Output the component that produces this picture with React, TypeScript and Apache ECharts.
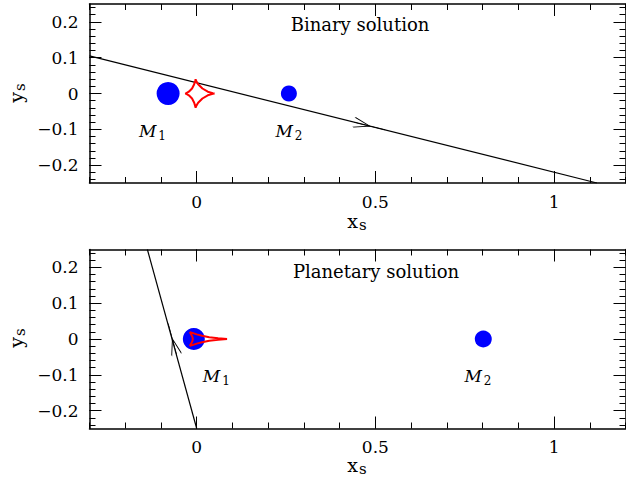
import React, { useEffect, useRef } from 'react';
import * as echarts from 'echarts';

const X_MIN = -0.3;
const X_MAX = 1.2;
const Y_MIN = -0.25;
const Y_MAX = 0.25;
const xLabelTicks = [0, 0.5, 1];
const xMinorTicks = [-0.3, -0.2, -0.1, 0, 0.1, 0.2, 0.3, 0.4, 0.5, 0.6, 0.7, 0.8, 0.9, 1, 1.1, 1.2];
const yLabelTicks = [-0.2, -0.1, 0, 0.1, 0.2];
const yMinorTicks = [-0.24, -0.22, -0.2, -0.18, -0.16, -0.14, -0.12, -0.1, -0.08, -0.06, -0.04, -0.02, 0,
  0.02, 0.04, 0.06, 0.08, 0.1, 0.12, 0.14, 0.16, 0.18, 0.2, 0.22, 0.24];

// Binary solution
const binaryM1 = [-0.08, 0];
const binaryM2 = [0.258, 0];
const binaryCaustic = [
  [0.05, 0], [0.045, 0.001], [0.031, 0.005], [0.016, 0.014], [0.004, 0.026], [-0.002, 0.036], [-0.003, 0.04],
  [-0.004, 0.036], [-0.007, 0.026], [-0.013, 0.014], [-0.022, 0.005], [-0.029, 0.001], [-0.032, 0],
  [-0.029, -0.001], [-0.022, -0.005], [-0.013, -0.014], [-0.007, -0.026], [-0.004, -0.036], [-0.003, -0.04],
  [-0.002, -0.036], [0.004, -0.026], [0.016, -0.014], [0.031, -0.005], [0.045, -0.001], [0.05, 0],
];
const binaryTrajectory = [[-0.3, 0.105], [1.12, -0.25]];
const binaryArrow = [0.484, -0.091];
const binaryLabelM1 = [-0.124, -0.105];
const binaryLabelM2 = [0.258, -0.105];

// Planetary solution
const planetM1 = [-0.008, 0];
const planetM2 = [0.802, 0];
const planetCaustic = [
  [0.085, 0], [0.06, 0.002], [0.035, 0.005], [0.015, 0.009], [0.0, 0.013], [-0.012, 0.017], [-0.019, 0.019],
  [-0.015, 0.012], [-0.012, 0.006], [-0.011, 0],
  [-0.012, -0.006], [-0.015, -0.012], [-0.019, -0.019], [-0.012, -0.017], [0.0, -0.013], [0.015, -0.009],
  [0.035, -0.005], [0.06, -0.002], [0.085, 0],
];
const planetTrajectory = [[-0.138, 0.25], [0.0, -0.25]];
const planetArrow = [-0.068, 0.0];
const planetLabelM1 = [0.055, -0.104];
const planetLabelM2 = [0.787, -0.104];

const FONT = 'DejaVu Serif';
const fmt = (v: number) => String(v).replace('-', '\u2212');

function makeAxes(gridIndex: number) {
  const base = {
    type: 'value' as const,
    gridIndex,
    splitLine: { show: false },
  };
  const xs: any[] = [];
  const ys: any[] = [];
  (['bottom', 'top'] as const).forEach((pos) => {
    xs.push({
      ...base, position: pos, min: X_MIN, max: X_MAX,
      axisLine: { show: true, onZero: false, lineStyle: { color: '#000', width: 1.5 } },
      axisTick: { show: true, inside: true, length: 6, customValues: xMinorTicks, lineStyle: { color: '#000', width: 1 } },
      axisLabel: pos === 'bottom'
        ? { show: true, customValues: xLabelTicks, formatter: fmt, margin: 10, color: '#000', fontFamily: FONT, fontSize: 17 }
        : { show: false },
    });
    xs.push({
      ...base, position: pos, min: X_MIN, max: X_MAX,
      axisLine: { show: false, onZero: false },
      axisTick: { show: true, inside: true, length: 12, customValues: xLabelTicks, lineStyle: { color: '#000', width: 1 } },
      axisLabel: { show: false },
    });
  });
  (['left', 'right'] as const).forEach((pos) => {
    ys.push({
      ...base, position: pos, min: Y_MIN, max: Y_MAX,
      axisLine: { show: true, onZero: false, lineStyle: { color: '#000', width: 1.5 } },
      axisTick: { show: true, inside: true, length: 6, customValues: yMinorTicks, lineStyle: { color: '#000', width: 1 } },
      axisLabel: pos === 'left'
        ? { show: true, customValues: yLabelTicks, formatter: fmt, margin: 11, color: '#000', fontFamily: FONT, fontSize: 17 }
        : { show: false },
    });
    ys.push({
      ...base, position: pos, min: Y_MIN, max: Y_MAX,
      axisLine: { show: false, onZero: false },
      axisTick: { show: true, inside: true, length: 12, customValues: yLabelTicks, lineStyle: { color: '#000', width: 1 } },
      axisLabel: { show: false },
    });
  });
  return { xs, ys };
}

const arrowPath = 'path://M0 0 L16 5 L0 10 M0 5 L32 5';

const labelRich = {
  m: { fontFamily: FONT, fontStyle: 'italic', fontSize: 17, color: '#000' },
  s: { fontFamily: FONT, fontSize: 12, color: '#000', padding: [10, 0, 0, 2] },
};

function panelSeries(idx: number, m1: number[], m2: number[], m1Size: number, m2Size: number, caustic: number[][],
  traj: number[][], arrow: number[], arrowRot: number, lab1: number[], lab2: number[]) {
  const ax = { xAxisIndex: idx * 4, yAxisIndex: idx * 4 };
  return [
    {
      type: 'line', ...ax, data: traj, showSymbol: false, symbol: 'none', clip: true, z: 3,
      lineStyle: { color: '#000', width: 1.2 },
    },
    { type: 'scatter', ...ax, data: [m1], symbolSize: m1Size, itemStyle: { color: '#0000ff', opacity: 1 }, z: 4 },
    { type: 'scatter', ...ax, data: [m2], symbolSize: m2Size, itemStyle: { color: '#0000ff', opacity: 1 }, z: 4 },
    {
      type: 'line', ...ax, data: caustic, showSymbol: false, symbol: 'none', z: 5,
      lineStyle: { color: '#ff0000', width: 2 },
    },
    {
      type: 'scatter', ...ax, data: [arrow], symbol: arrowPath, symbolSize: [32, 10], symbolRotate: arrowRot, z: 6,
      itemStyle: { color: 'rgba(0,0,0,0)', borderColor: '#000', borderWidth: 1.2, opacity: 1 },
    },
    {
      type: 'scatter', ...ax, data: [lab1, lab2], symbolSize: 0, z: 6,
      itemStyle: { opacity: 1, color: '#000' },
      label: {
        show: true, position: 'inside', color: '#000',
        formatter: (p: any) => (p.dataIndex === 0 ? '{m|M}{s|1}' : '{m|M}{s|2}'),
        rich: labelRich,
      },
    },
  ];
}

export default function App() {
  const ref = useRef<HTMLDivElement>(null);
  useEffect(() => {
    if (!ref.current) return;
    const chart = echarts.init(ref.current, undefined, { renderer: 'svg' });
    const a0 = makeAxes(0);
    const a1 = makeAxes(1);
    const subRich = {
      a: { fontFamily: FONT, fontSize: 19, fill: '#000', color: '#000' },
      b: { fontFamily: FONT, fontSize: 15, fill: '#000', color: '#000', padding: [8, 0, 0, 1] },
    };
    const mkText = (x: number, y: number, text: string, rotation = 0, rich: any = undefined, size = 18) => ({
      type: 'text', x, y, rotation,
      style: { text, rich, fontFamily: FONT, fontSize: size, fill: '#000', align: 'center', verticalAlign: 'middle' },
    });
    chart.setOption({
      animation: false,
      backgroundColor: '#fff',
      grid: [
        { left: 89.5, top: 4, width: 536, height: 179 },
        { left: 89.5, top: 249.5, width: 536, height: 179 },
      ],
      xAxis: [...a0.xs, ...a1.xs],
      yAxis: [...a0.ys, ...a1.ys],
      series: [
        ...panelSeries(0, binaryM1, binaryM2, 23, 16, binaryCaustic, binaryTrajectory, binaryArrow, -14,
          binaryLabelM1, binaryLabelM2),
        ...panelSeries(1, planetM1, planetM2, 22, 17, planetCaustic, planetTrajectory, planetArrow, 105,
          planetLabelM1, planetLabelM2),
      ],
      graphic: [
        mkText(360, 24, 'Binary solution'),
        mkText(376, 271, 'Planetary solution'),
        mkText(357, 221, '{a|x}{b|s}', 0, subRich),
        mkText(357, 465, '{a|x}{b|s}', 0, subRich),
        mkText(16, 93, '{a|y}{b|s}', Math.PI / 2, subRich),
        mkText(16, 338, '{a|y}{b|s}', Math.PI / 2, subRich),
      ],
    });
    return () => chart.dispose();
  }, []);
  return <div ref={ref} style={{ position: 'fixed', left: 0, top: 0, width: 626, height: 478 }} />;
}
